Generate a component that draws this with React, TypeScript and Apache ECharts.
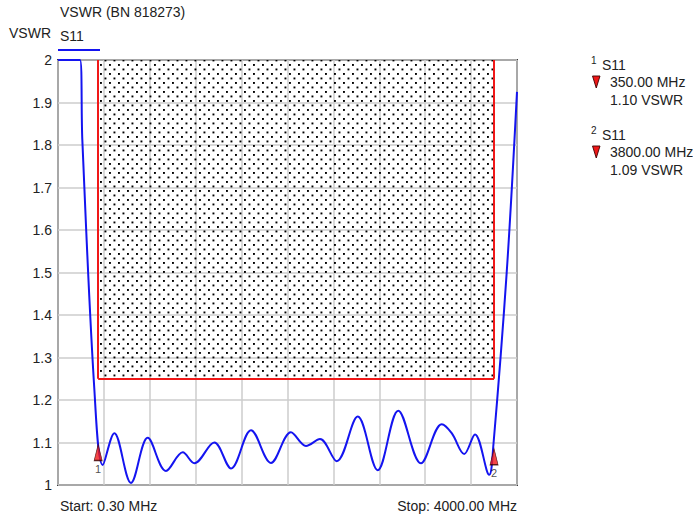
import React, { useEffect, useRef } from "react";
import * as echarts from "echarts";

// ---- data ----
const titleText = "VSWR (BN 818273)";
const yAxisName = "VSWR";
const traceName = "S11";
const startMHz = 0.3;
const stopMHz = 4000;

const freqMHz = [
  0.3, 192, 212, 317, 390, 491, 636, 782, 941, 1087, 1188, 1362, 1508, 1682,
  1856, 2030, 2161, 2283, 2429, 2612, 2786, 2965, 3163, 3344, 3431, 3540,
  3634, 3758, 3793, 3910, 4000,
];
const vswrValues = [
  2.0, 2.0, 1.812, 1.224, 1.047, 1.122, 1.005, 1.111, 1.033, 1.077, 1.051,
  1.1, 1.039, 1.129, 1.052, 1.124, 1.092, 1.108, 1.056, 1.161, 1.035, 1.175,
  1.051, 1.143, 1.122, 1.073, 1.119, 1.024, 1.09, 1.499, 1.925,
];

const markerIds = ["1", "2"];
const markerFreqs = [350, 3800];
const markerVswr = [1.1, 1.09];

const limitStartMHz = 350;
const limitStopMHz = 3800;
const limitMinVswr = 1.25;
const limitMaxVswr = 2;

const yMin = 1;
const yMax = 2;
const yStep = 0.1;
const xGridStep = 400;

const FONT = "'Liberation Sans', Arial, sans-serif";
const TEXT = "#222";
const BLUE = "#1414f0";
const RED = "#f01818";

const dotSvg =
  "data:image/svg+xml;charset=utf-8," +
  encodeURIComponent(
    "<svg xmlns='http://www.w3.org/2000/svg' width='9' height='9'>" +
      "<rect x='1' y='1' width='1.9' height='1.9' fill='#000'/>" +
      "<rect x='5.5' y='5.5' width='1.9' height='1.9' fill='#000'/>" +
      "</svg>"
  );

export default function App() {
  const ref = useRef<HTMLDivElement>(null);

  useEffect(() => {
    if (!ref.current) return;
    const chart = echarts.init(ref.current, undefined, { renderer: "svg" });

    const curve = freqMHz.map((f, i) => [f, vswrValues[i]]);
    const markerData = markerFreqs.map((f, i) => ({
      value: [f, markerVswr[i]],
      label: { formatter: markerIds[i] },
    }));

    const legendGraphics: any[] = [];
    markerIds.forEach((id, i) => {
      const y0 = 56 + i * 70;
      legendGraphics.push(
        {
          type: "text",
          left: 591,
          top: y0 - 1,
          style: { text: id, font: `10px ${FONT}`, fill: TEXT },
        },
        {
          type: "text",
          left: 602,
          top: y0 + 2,
          style: { text: traceName, font: `14px ${FONT}`, fill: TEXT },
        },
        {
          type: "polygon",
          shape: {
            points: [
              [592.5, y0 + 20],
              [600, y0 + 20],
              [596.25, y0 + 32],
            ],
          },
          style: { fill: RED, stroke: "#3a0000", lineWidth: 0.9 },
        },
        {
          type: "text",
          left: 610,
          top: y0 + 19,
          style: {
            text: `${markerFreqs[i].toFixed(2)} MHz`,
            font: `14px ${FONT}`,
            fill: TEXT,
          },
        },
        {
          type: "text",
          left: 610,
          top: y0 + 37,
          style: {
            text: `${markerVswr[i].toFixed(2)} VSWR`,
            font: `14px ${FONT}`,
            fill: TEXT,
          },
        }
      );
    });

    const option: any = {
      animation: false,
      grid: {
        left: 58,
        top: 60,
        width: 459,
        height: 425,
        show: true,
        borderColor: "#3c3c3c",
        borderWidth: 2,
        backgroundColor: "transparent",
      },
      xAxis: {
        type: "value",
        min: 0,
        max: stopMHz,
        interval: xGridStep,
        axisLine: { show: false },
        axisTick: { show: false },
        axisLabel: { show: false },
        splitLine: { show: true, lineStyle: { color: "#cdcdcd", width: 1.5 } },
      },
      yAxis: {
        type: "value",
        min: yMin,
        max: yMax,
        interval: yStep,
        axisLine: { show: false },
        axisTick: { show: false },
        axisLabel: {
          color: TEXT,
          fontSize: 14,
          fontFamily: FONT,
          margin: 6,
          formatter: (v: number) => String(Math.round(v * 10) / 10),
        },
        splitLine: { show: true, lineStyle: { color: "#cdcdcd", width: 1.5 } },
      },
      graphic: [
        {
          type: "text",
          left: 60,
          top: 5,
          style: { text: titleText, font: `14px ${FONT}`, fill: TEXT },
        },
        {
          type: "text",
          left: 9,
          top: 26,
          style: { text: yAxisName, font: `14px ${FONT}`, fill: TEXT },
        },
        {
          type: "text",
          left: 60,
          top: 29,
          style: { text: traceName, font: `14px ${FONT}`, fill: TEXT },
        },
        {
          type: "line",
          shape: { x1: 58, y1: 50, x2: 100, y2: 50 },
          style: { stroke: BLUE, lineWidth: 2 },
        },
        {
          type: "text",
          left: 60,
          top: 499,
          style: {
            text: `Start: ${startMHz.toFixed(2)} MHz`,
            font: `14px ${FONT}`,
            fill: TEXT,
          },
        },
        {
          type: "text",
          right: 693 - 517,
          top: 499,
          style: {
            text: `Stop: ${stopMHz.toFixed(2)} MHz`,
            font: `14px ${FONT}`,
            fill: TEXT,
          },
        },
        ...legendGraphics,
      ],
      series: [
        {
          type: "line",
          data: curve,
          smooth: 0.35,
          showSymbol: false,
          symbol: "none",
          lineStyle: { color: BLUE, width: 2 },
          silent: true,
          z: 3,
          markArea: {
            silent: true,
            itemStyle: {
              color: {
                image: dotSvg,
                repeat: "repeat",
                imageWidth: 9,
                imageHeight: 9,
              },
              borderWidth: 0,
            },
            data: [
              [
                { coord: [limitStartMHz, limitMaxVswr] },
                { coord: [limitStopMHz, limitMinVswr] },
              ],
            ],
          },
          markLine: {
            silent: true,
            symbol: ["none", "none"],
            label: { show: false },
            lineStyle: { color: RED, width: 2, type: "solid" },
            data: [
              [
                { coord: [limitStartMHz, limitMaxVswr] },
                { coord: [limitStartMHz, limitMinVswr] },
              ],
              [
                { coord: [limitStartMHz, limitMinVswr] },
                { coord: [limitStopMHz, limitMinVswr] },
              ],
              [
                { coord: [limitStopMHz, limitMinVswr] },
                { coord: [limitStopMHz, limitMaxVswr] },
              ],
            ],
          },
        },
        {
          type: "scatter",
          data: markerData,
          symbol: "triangle",
          symbolSize: [8, 16],
          symbolOffset: [0, 10],
          itemStyle: { color: RED, borderColor: "#3a0000", borderWidth: 0.9 },
          label: {
            show: true,
            position: "bottom",
            distance: -8,
            offset: [0, 10],
            color: TEXT,
            fontSize: 11,
            fontFamily: FONT,
          },
          silent: true,
          z: 4,
        },
      ],
    };

    chart.setOption(option);
    return () => chart.dispose();
  }, []);

  return (
    <div
      ref={ref}
      style={{ position: "fixed", left: 0, top: 0, width: 693, height: 522, background: "#fff" }}
    />
  );
}
